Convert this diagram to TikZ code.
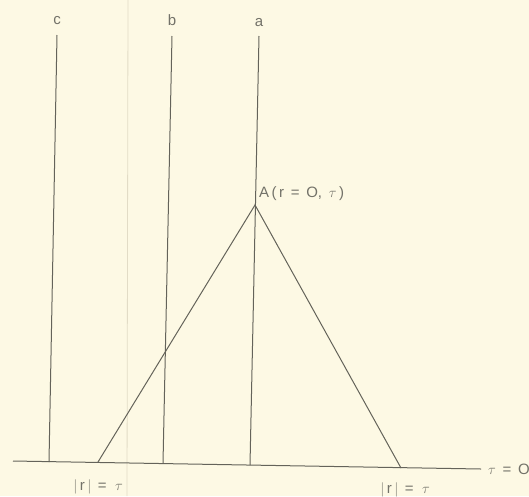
\documentclass[tikz,border=0pt]{standalone}
\usepackage{fontspec}
\setmainfont{Liberation Sans}
\begin{document}
\begin{tikzpicture}[x=1pt,y=-1pt,
  ln/.style={draw=linegray,line width=1pt},
  lbl/.style={text=textgray,inner sep=0pt,font=\fontsize{15}{17}\selectfont}]
\definecolor{bgc}{RGB}{253,249,228}
\definecolor{linegray}{RGB}{100,99,90}
\definecolor{textgray}{RGB}{115,114,105}
\definecolor{faint}{RGB}{226,220,198}
\useasboundingbox (0,0) rectangle (529,496);
\fill[bgc] (0,0) rectangle (529,496);
% faint fold line of the scan
\draw[faint,line width=0.8pt] (128,0) -- (127,496);
% axis
\coordinate (axL) at (13,461);
\coordinate (axR) at (481,469);
\draw[ln] (axL) -- (axR);
\node[lbl,anchor=west] (tau0) at (488,469) {$\tau$ \,=\, O};
% vertical lines
\coordinate (cT) at (57,35);  \coordinate (cB) at (49,462);
\coordinate (bT) at (172,36); \coordinate (bB) at (163,463);
\coordinate (aT) at (259,36); \coordinate (aB) at (250,465);
\draw[ln] (cT) -- (cB);
\draw[ln] (bT) -- (bB);
\draw[ln] (aT) -- (aB);
\node[lbl] (lc) at (57,21) {c};
\node[lbl] (lb) at (172,20) {b};
\node[lbl] (la) at (259,23) {a};
% triangle
\coordinate (A) at (255,205);
\coordinate (L) at (98,462);
\coordinate (R) at (401,468);
\draw[ln,line join=miter] (L) -- (A) -- (R);
\node[lbl,anchor=west] (Alab) at (259,194) {A\,(\,r \,=\, O,\, $\tau$\,)};
\node[lbl] (lL) at (98,487) {$|$\,r\,$|$\;\,=\;\;$\tau$};
\node[lbl] (lR) at (405,490) {$|$\,r\,$|$\;\,=\;\;$\tau$};
\end{tikzpicture}
\end{document}
